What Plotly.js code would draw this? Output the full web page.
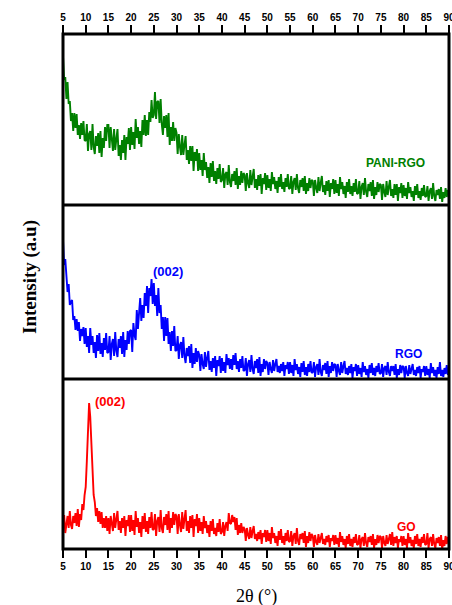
<!DOCTYPE html>
<html>
<head>
<meta charset="utf-8">
<script src="https://cdn.plot.ly/plotly-3.0.1.min.js"></script>
<style>
  html, body { margin: 0; padding: 0; background: #ffffff; }
  #chart { width: 452px; height: 605px; }
</style>
</head>
<body>
<div id="chart"></div>
<script>
// 2θ sampling: 5° to 90° in 0.25° steps
const thetaStart = 5;
const thetaStep = 0.25;

// Intensity (a.u.), one row per 5°
const paniRgo = [
  149,125,128,106,123,101,104,84,92,74,92,77,91,70,80,66,82,70,84,65,
  64,81,54,71,74,55,81,58,51,69,59,72,52,74,48,67,57,78,64,80,
  80,57,78,62,54,76,55,66,76,49,60,45,65,52,70,45,68,61,77,55,
  78,60,73,56,86,67,78,61,74,58,85,70,90,69,85,70,93,83,105,87,
  90,113,86,103,104,82,106,81,70,89,77,90,68,92,60,78,64,83,64,77,
  72,51,71,58,50,70,50,60,69,45,55,41,59,44,59,34,53,44,56,34,
  52,35,45,29,52,35,43,27,38,22,42,28,44,24,34,21,37,26,41,23,
  25,37,17,31,33,20,40,23,18,31,24,34,20,37,16,29,20,34,22,32,
  30,14,32,22,17,35,20,28,36,17,26,15,30,19,31,11,27,21,32,15,
  30,17,26,14,33,21,28,16,24,12,28,18,31,16,23,13,27,18,31,16,
  17,29,11,23,27,15,31,17,12,25,18,27,14,29,11,22,14,27,17,25,
  24,9,25,17,12,28,14,22,29,13,20,10,24,14,25,8,22,16,26,11,
  25,12,21,9,28,16,23,11,19,7,23,13,26,11,19,9,22,13,26,11,
  12,24,6,18,22,10,27,13,8,21,14,23,9,25,6,18,10,23,13,21,
  20,5,21,13,8,24,10,18,25,9,16,7,21,10,21,4,18,12,22,7,
  20,9,17,6,23,12,18,8,14,4,19,10,21,7,14,5,17,9,20,8,
  9,19,4,14,17,6,22,9,4,15,10,16,6,18,3,13,7,17,8,15,
  11
];
const rgo = [
  139,114,120,102,87,95,74,77,79,59,63,49,60,48,57,38,50,43,52,35,
  51,32,43,26,51,34,43,26,37,21,44,28,46,25,36,22,41,29,46,26,
  27,43,19,35,40,23,47,28,22,40,31,43,25,47,22,39,29,48,35,48,
  49,27,56,44,39,69,50,66,81,58,74,61,86,73,93,66,91,83,100,75,
  96,73,84,63,91,66,74,50,62,38,62,43,61,35,47,28,48,33,53,28,
  29,43,20,34,37,21,42,23,16,31,23,33,16,35,11,26,15,31,17,28,
  24,8,25,15,10,27,12,21,28,9,18,7,21,11,23,3,19,13,23,6,
  21,8,17,6,25,14,21,10,20,9,24,14,26,10,18,7,20,11,23,8,
  9,21,3,15,19,7,24,10,5,18,11,20,6,22,3,15,7,20,10,18,
  16,4,17,10,6,19,8,15,20,7,13,6,15,8,17,3,14,10,17,5,
  17,6,14,3,20,9,15,5,12,2,16,7,18,4,12,3,15,7,18,6,
  7,17,2,12,15,4,20,7,3,14,9,16,5,18,2,13,6,17,8,15,
  14,2,15,8,4,17,6,13,18,5,11,4,13,6,15,1,12,8,15,3,
  14,5,11,2,17,7,13,4,10,1,14,6,16,4,11,3,13,7,16,5,
  6,15,2,11,13,4,17,7,3,13,8,13,4,15,1,10,4,14,6,13,
  12,1,13,6,3,14,5,10,15,4,9,3,12,6,13,1,10,7,13,3,
  13,4,10,1,16,6,12,3,9,1,12,5,17,3,9,2,11,5,14,4,
  8
];
const go = [
  22,34,16,28,33,21,38,24,20,33,26,36,23,40,22,35,29,45,39,54,
  62,88,122,146,132,102,76,54,47,33,41,27,38,25,37,21,31,21,33,18,
  31,15,33,23,18,36,21,30,38,19,28,16,31,21,33,13,29,23,34,17,
  34,18,29,14,38,22,31,16,27,12,33,20,36,17,28,15,32,21,37,19,
  20,35,13,28,32,17,39,21,16,32,24,35,19,38,16,31,21,37,24,35,
  33,15,35,24,17,37,20,30,39,18,28,16,33,21,34,12,30,23,35,16,
  31,18,27,15,33,21,28,16,24,12,28,18,30,15,21,13,26,17,30,15,
  17,27,13,23,27,18,36,26,25,34,27,32,19,31,14,24,16,26,16,22,
  20,8,21,14,10,22,11,18,23,10,15,8,17,10,19,5,16,12,19,7,
  19,8,16,5,22,11,16,6,13,3,18,9,20,6,13,4,16,8,19,7,
  8,18,3,13,16,5,21,8,4,15,10,16,6,18,2,13,6,17,8,15,
  13,2,14,7,4,15,6,11,16,5,10,4,13,7,14,2,11,8,14,4,
  14,5,11,2,17,7,13,4,10,1,13,5,15,3,10,2,12,6,15,4,
  5,14,1,10,12,3,16,6,2,12,7,13,4,15,1,10,4,14,6,13,
  12,1,13,6,3,14,5,10,15,4,17,3,12,6,13,1,10,7,13,3,
  13,4,10,1,16,6,12,3,9,1,13,5,15,3,10,2,12,6,15,4,
  5,16,1,10,12,3,15,5,1,11,6,12,3,14,0,9,3,13,5,12,
  7
];

const tickValues = [5,10,15,20,25,30,35,40,45,50,55,60,65,70,75,80,85,90];
const tickLabels = tickValues.map(String);

const seriesNames = ['PANI-RGO', 'RGO', 'GO'];
const seriesColors = ['#008000', '#0000ff', '#ff0000'];

const twoTheta = paniRgo.map((_, i) => thetaStart + i * thetaStep);

// panel geometry (paper fractions of plot area)
const d1 = 170 / 515, d2 = 344 / 515;

const lineW = 1.9;
const traces = [
  { x: twoTheta, y: paniRgo, xaxis: 'x2', yaxis: 'y3', name: seriesNames[0],
    type: 'scatter', mode: 'lines', line: { color: seriesColors[0], width: lineW } },
  { x: twoTheta, y: rgo, xaxis: 'x', yaxis: 'y2', name: seriesNames[1],
    type: 'scatter', mode: 'lines', line: { color: seriesColors[1], width: lineW } },
  { x: twoTheta, y: go, xaxis: 'x', yaxis: 'y', name: seriesNames[2],
    type: 'scatter', mode: 'lines', line: { color: seriesColors[2], width: lineW } }
];

const tickFont = { family: 'Liberation Sans, Arial, sans-serif', size: 10, color: '#000', weight: 700 };
const xCommon = {
  range: [5, 90], tickmode: 'array', tickvals: tickValues, ticktext: tickLabels,
  ticks: 'outside', ticklen: 8, tickwidth: 2, tickcolor: '#000', ticklabeloverflow: 'allow',
  showgrid: false, zeroline: false, showline: false, tickfont: tickFont, fixedrange: true
};
const yCommon = {
  showticklabels: false, ticks: '', showgrid: false, zeroline: false, showline: false, fixedrange: true
};

const labelFont = (c) => ({ family: 'Liberation Sans, Arial, sans-serif', size: 12, color: c, weight: 700 });

const layout = {
  width: 452, height: 605,
  margin: { l: 63, r: 3, t: 34, b: 56 },
  paper_bgcolor: '#ffffff', plot_bgcolor: '#ffffff',
  showlegend: false,
  xaxis: Object.assign({}, xCommon, { anchor: 'y', side: 'bottom' }),
  xaxis2: Object.assign({}, xCommon, { anchor: 'y3', side: 'top', matches: 'x' }),
  yaxis: Object.assign({}, yCommon, { domain: [0, d1], range: [0, 170] }),
  yaxis2: Object.assign({}, yCommon, { domain: [d1, d2], range: [0, 174] }),
  yaxis3: Object.assign({}, yCommon, { domain: [d2, 1], range: [0, 171] }),
  shapes: [
    { type: 'rect', xref: 'paper', yref: 'paper', x0: 0, x1: 1, y0: 0, y1: 1,
      line: { color: '#000', width: 3 } },
    { type: 'line', xref: 'paper', yref: 'paper', x0: 0, x1: 1, y0: d1, y1: d1,
      line: { color: '#000', width: 3 } },
    { type: 'line', xref: 'paper', yref: 'paper', x0: 0, x1: 1, y0: d2, y1: d2,
      line: { color: '#000', width: 3 } }
  ],
  annotations: [
    { xref: 'x2', yref: 'y3', x: 78.3, y: 42, text: seriesNames[0], showarrow: false,
      font: labelFont(seriesColors[0]) },
    { xref: 'x', yref: 'y2', x: 28.1, y: 108, text: '(002)', showarrow: false,
      font: Object.assign(labelFont(seriesColors[1]), { size: 13 }) },
    { xref: 'x', yref: 'y2', x: 81.0, y: 25, text: seriesNames[1], showarrow: false,
      font: labelFont(seriesColors[1]) },
    { xref: 'x', yref: 'y', x: 15.3, y: 147, text: '(002)', showarrow: false,
      font: Object.assign(labelFont(seriesColors[2]), { size: 13 }) },
    { xref: 'x', yref: 'y', x: 80.75, y: 22, text: seriesNames[2], showarrow: false,
      font: labelFont(seriesColors[2]) },
    { xref: 'paper', yref: 'paper', x: (30 - 63) / 386, y: (549 - 277) / 515,
      text: 'Intensity (a.u)', textangle: -90, showarrow: false,
      xanchor: 'center', yanchor: 'middle',
      font: { family: 'Liberation Serif, Times New Roman, serif', size: 19, color: '#000', weight: 700 } },
    { xref: 'paper', yref: 'paper', x: 0.5, y: (549 - 596) / 515,
      text: '2θ (°)', showarrow: false, xanchor: 'center', yanchor: 'middle',
      font: { family: 'Liberation Serif, Times New Roman, serif', size: 18, color: '#000' } }
  ]
};

Plotly.newPlot('chart', traces, layout, { displayModeBar: false, staticPlot: true });
</script>
</body>
</html>
